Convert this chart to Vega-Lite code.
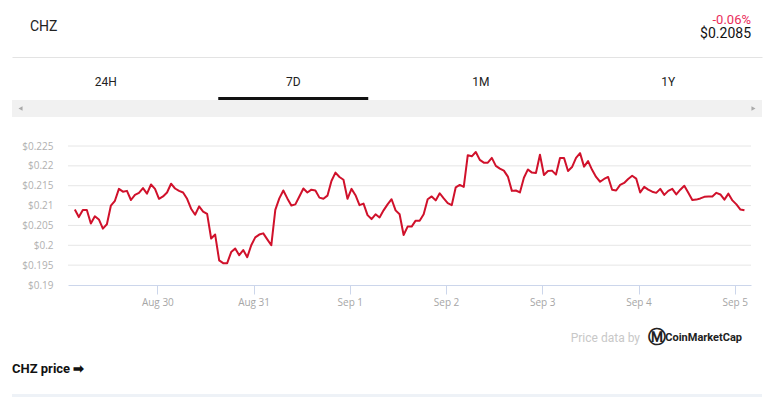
{
"$schema": "https://vega.github.io/schema/vega-lite/v6.json",
"padding": {"left": 12, "top": 0, "right": 14, "bottom": 0},
"background": "white",
"spacing": 0,
"bounds": "flush",
"config": {"view": {"stroke": null}, "font": "Roboto", "text": {"font": "Roboto"}},
"datasets": {"price": [
{"t":"2022-08-29T03:25Z","p":0.2090},{"t":"2022-08-29T04:25Z","p":0.2071},{"t":"2022-08-29T05:25Z","p":0.2089},{"t":"2022-08-29T06:25Z","p":0.2089},{"t":"2022-08-29T07:25Z","p":0.2055},{"t":"2022-08-29T08:25Z","p":0.2073},{"t":"2022-08-29T09:25Z","p":0.2065},{"t":"2022-08-29T10:25Z","p":0.2042},{"t":"2022-08-29T11:25Z","p":0.2053},{"t":"2022-08-29T12:25Z","p":0.2100},{"t":"2022-08-29T13:25Z","p":0.2112},{"t":"2022-08-29T14:25Z","p":0.2142},{"t":"2022-08-29T15:25Z","p":0.2135},{"t":"2022-08-29T16:25Z","p":0.2137},{"t":"2022-08-29T17:25Z","p":0.2114},{"t":"2022-08-29T18:25Z","p":0.2127},{"t":"2022-08-29T19:25Z","p":0.2132},{"t":"2022-08-29T20:25Z","p":0.2144},{"t":"2022-08-29T21:25Z","p":0.2130},{"t":"2022-08-29T22:25Z","p":0.2153},{"t":"2022-08-29T23:25Z","p":0.2142},
{"t":"2022-08-30T00:25Z","p":0.2117},{"t":"2022-08-30T01:25Z","p":0.2123},{"t":"2022-08-30T02:25Z","p":0.2133},{"t":"2022-08-30T03:25Z","p":0.2155},{"t":"2022-08-30T04:25Z","p":0.2143},{"t":"2022-08-30T05:25Z","p":0.2137},{"t":"2022-08-30T06:25Z","p":0.2133},{"t":"2022-08-30T07:25Z","p":0.2117},{"t":"2022-08-30T08:25Z","p":0.2092},{"t":"2022-08-30T09:25Z","p":0.2077},{"t":"2022-08-30T10:25Z","p":0.2098},{"t":"2022-08-30T11:25Z","p":0.2085},{"t":"2022-08-30T12:25Z","p":0.2079},{"t":"2022-08-30T13:25Z","p":0.2017},{"t":"2022-08-30T14:25Z","p":0.2027},{"t":"2022-08-30T15:25Z","p":0.1962},{"t":"2022-08-30T16:25Z","p":0.1955},{"t":"2022-08-30T17:25Z","p":0.1955},{"t":"2022-08-30T18:25Z","p":0.1983},{"t":"2022-08-30T19:25Z","p":0.1992},{"t":"2022-08-30T20:25Z","p":0.1975},{"t":"2022-08-30T21:25Z","p":0.1988},{"t":"2022-08-30T22:25Z","p":0.1970},{"t":"2022-08-30T23:25Z","p":0.2000},
{"t":"2022-08-31T00:25Z","p":0.2020},{"t":"2022-08-31T01:25Z","p":0.2027},{"t":"2022-08-31T02:25Z","p":0.2030},{"t":"2022-08-31T03:25Z","p":0.2015},{"t":"2022-08-31T04:25Z","p":0.2000},{"t":"2022-08-31T05:25Z","p":0.2089},{"t":"2022-08-31T06:25Z","p":0.2118},{"t":"2022-08-31T07:25Z","p":0.2138},{"t":"2022-08-31T08:25Z","p":0.2118},{"t":"2022-08-31T09:25Z","p":0.2100},{"t":"2022-08-31T10:25Z","p":0.2103},{"t":"2022-08-31T11:25Z","p":0.2123},{"t":"2022-08-31T12:25Z","p":0.2143},{"t":"2022-08-31T13:25Z","p":0.2133},{"t":"2022-08-31T14:25Z","p":0.2140},{"t":"2022-08-31T15:25Z","p":0.2138},{"t":"2022-08-31T16:25Z","p":0.2120},{"t":"2022-08-31T17:25Z","p":0.2117},{"t":"2022-08-31T18:25Z","p":0.2125},{"t":"2022-08-31T19:25Z","p":0.2162},{"t":"2022-08-31T20:25Z","p":0.2183},{"t":"2022-08-31T21:25Z","p":0.2172},{"t":"2022-08-31T22:25Z","p":0.2165},{"t":"2022-08-31T23:25Z","p":0.2117},
{"t":"2022-09-01T00:25Z","p":0.2142},{"t":"2022-09-01T01:25Z","p":0.2126},{"t":"2022-09-01T02:25Z","p":0.2101},{"t":"2022-09-01T03:25Z","p":0.2105},{"t":"2022-09-01T04:25Z","p":0.2076},{"t":"2022-09-01T05:25Z","p":0.2066},{"t":"2022-09-01T06:25Z","p":0.2078},{"t":"2022-09-01T07:25Z","p":0.2070},{"t":"2022-09-01T08:25Z","p":0.2088},{"t":"2022-09-01T09:25Z","p":0.2103},{"t":"2022-09-01T10:25Z","p":0.2116},{"t":"2022-09-01T11:25Z","p":0.2088},{"t":"2022-09-01T12:25Z","p":0.2078},{"t":"2022-09-01T13:25Z","p":0.2026},{"t":"2022-09-01T14:25Z","p":0.2047},{"t":"2022-09-01T15:25Z","p":0.2047},{"t":"2022-09-01T16:25Z","p":0.2062},{"t":"2022-09-01T17:25Z","p":0.2062},{"t":"2022-09-01T18:25Z","p":0.2078},{"t":"2022-09-01T19:25Z","p":0.2116},{"t":"2022-09-01T20:25Z","p":0.2123},{"t":"2022-09-01T21:25Z","p":0.2113},{"t":"2022-09-01T22:25Z","p":0.2131},{"t":"2022-09-01T23:25Z","p":0.2118},
{"t":"2022-09-02T00:25Z","p":0.2106},{"t":"2022-09-02T01:25Z","p":0.2101},{"t":"2022-09-02T02:25Z","p":0.2146},{"t":"2022-09-02T03:25Z","p":0.2152},{"t":"2022-09-02T04:25Z","p":0.2147},{"t":"2022-09-02T05:25Z","p":0.2227},{"t":"2022-09-02T06:25Z","p":0.2224},{"t":"2022-09-02T07:25Z","p":0.2235},{"t":"2022-09-02T08:25Z","p":0.2215},{"t":"2022-09-02T09:25Z","p":0.2208},{"t":"2022-09-02T10:25Z","p":0.2208},{"t":"2022-09-02T11:25Z","p":0.2220},{"t":"2022-09-02T12:25Z","p":0.2200},{"t":"2022-09-02T13:25Z","p":0.2193},{"t":"2022-09-02T14:25Z","p":0.2188},{"t":"2022-09-02T15:25Z","p":0.2173},{"t":"2022-09-02T16:25Z","p":0.2137},{"t":"2022-09-02T17:25Z","p":0.2138},{"t":"2022-09-02T18:25Z","p":0.2133},{"t":"2022-09-02T19:25Z","p":0.2170},{"t":"2022-09-02T20:25Z","p":0.2191},{"t":"2022-09-02T21:25Z","p":0.2183},{"t":"2022-09-02T22:25Z","p":0.2182},{"t":"2022-09-02T23:25Z","p":0.2228},
{"t":"2022-09-03T00:25Z","p":0.2177},{"t":"2022-09-03T01:25Z","p":0.2187},{"t":"2022-09-03T02:25Z","p":0.2188},{"t":"2022-09-03T03:25Z","p":0.2178},{"t":"2022-09-03T04:25Z","p":0.2220},{"t":"2022-09-03T05:25Z","p":0.2220},{"t":"2022-09-03T06:25Z","p":0.2187},{"t":"2022-09-03T07:25Z","p":0.2197},{"t":"2022-09-03T08:25Z","p":0.2220},{"t":"2022-09-03T09:25Z","p":0.2232},{"t":"2022-09-03T10:25Z","p":0.2198},{"t":"2022-09-03T11:25Z","p":0.2212},{"t":"2022-09-03T12:25Z","p":0.2190},{"t":"2022-09-03T13:25Z","p":0.2172},{"t":"2022-09-03T14:25Z","p":0.2160},{"t":"2022-09-03T15:25Z","p":0.2167},{"t":"2022-09-03T16:25Z","p":0.2172},{"t":"2022-09-03T17:25Z","p":0.2140},{"t":"2022-09-03T18:25Z","p":0.2138},{"t":"2022-09-03T19:25Z","p":0.2152},{"t":"2022-09-03T20:25Z","p":0.2157},{"t":"2022-09-03T21:25Z","p":0.2167},{"t":"2022-09-03T22:25Z","p":0.2175},{"t":"2022-09-03T23:25Z","p":0.2168},
{"t":"2022-09-04T00:25Z","p":0.2133},{"t":"2022-09-04T01:25Z","p":0.2147},{"t":"2022-09-04T02:25Z","p":0.2140},{"t":"2022-09-04T03:25Z","p":0.2135},{"t":"2022-09-04T04:25Z","p":0.2132},{"t":"2022-09-04T05:25Z","p":0.2142},{"t":"2022-09-04T06:25Z","p":0.2127},{"t":"2022-09-04T07:25Z","p":0.2137},{"t":"2022-09-04T08:25Z","p":0.2142},{"t":"2022-09-04T09:25Z","p":0.2128},{"t":"2022-09-04T10:25Z","p":0.2140},{"t":"2022-09-04T11:25Z","p":0.2150},{"t":"2022-09-04T12:25Z","p":0.2132},{"t":"2022-09-04T13:25Z","p":0.2114},{"t":"2022-09-04T14:25Z","p":0.2115},{"t":"2022-09-04T15:25Z","p":0.2118},{"t":"2022-09-04T16:25Z","p":0.2122},{"t":"2022-09-04T17:25Z","p":0.2123},{"t":"2022-09-04T18:25Z","p":0.2123},{"t":"2022-09-04T19:25Z","p":0.2132},{"t":"2022-09-04T20:25Z","p":0.2128},{"t":"2022-09-04T21:25Z","p":0.2115},{"t":"2022-09-04T22:25Z","p":0.2130},{"t":"2022-09-04T23:25Z","p":0.2113},
{"t":"2022-09-05T00:25Z","p":0.2103},{"t":"2022-09-05T01:25Z","p":0.2090},{"t":"2022-09-05T02:25Z","p":0.2088}
]},
"vconcat": [
{
 "width": 750, "height": 57,
 "layer": [
  {"data": {"values": [{"side": "left", "label": "CHZ"}]},
   "mark": {"type": "text", "align": "left", "baseline": "middle", "dx": 18, "dy": -1.5, "fontSize": 14, "color": "#222222"},
   "encoding": {
    "x": {"field": "side", "type": "nominal", "scale": {"type": "point", "domain": ["left", "right"], "padding": 0}, "axis": {"orient": "bottom", "labels": false, "ticks": false, "title": null, "domainColor": "#e3e3e3", "domainWidth": 1}},
    "text": {"field": "label"}}},
  {"data": {"values": [{"side": "right", "label": "-0.06%"}]},
   "mark": {"type": "text", "align": "right", "baseline": "middle", "dx": -11, "dy": -9, "fontSize": 13, "color": "#ea2d5b"},
   "encoding": {"x": {"field": "side", "type": "nominal"}, "text": {"field": "label"}}},
  {"data": {"values": [{"side": "right", "label": "$0.2085"}]},
   "mark": {"type": "text", "align": "right", "baseline": "middle", "dx": -11, "dy": 5.5, "fontSize": 14, "color": "#111111"},
   "encoding": {"x": {"field": "side", "type": "nominal"}, "text": {"field": "label"}}}
 ]
},
{
 "width": 750, "height": 40,
 "data": {"values": [{"tab": "24H"}, {"tab": "7D"}, {"tab": "1M"}, {"tab": "1Y"}]},
 "mark": {"type": "text", "baseline": "middle", "dy": 5, "fontSize": 12, "color": "#222222"},
 "encoding": {
  "x": {"field": "tab", "type": "nominal", "scale": {"type": "band", "domain": ["24H", "7D", "1M", "1Y"], "paddingInner": 0, "paddingOuter": 0}, "axis": null},
  "text": {"field": "tab"}}
},
{
 "width": 750, "height": 3,
 "data": {"values": [{"tab": "7D"}]},
 "mark": {"type": "bar", "width": {"band": 0.8}, "color": "#111111"},
 "encoding": {
  "x": {"field": "tab", "type": "nominal", "scale": {"type": "band", "domain": ["24H", "7D", "1M", "1Y"], "paddingInner": 0, "paddingOuter": 0}, "axis": null}}
},
{
 "width": 750, "height": 17,
 "view": {"fill": "#f1f1f1", "stroke": null},
 "data": {"values": [{"end": "left"}, {"end": "right"}]},
 "mark": {"type": "point", "filled": true, "size": 22, "color": "#aaaaaa", "opacity": 1},
 "encoding": {
  "x": {"field": "end", "type": "nominal", "scale": {"type": "point", "domain": ["left", "right"], "padding": 0.0116}, "axis": null},
  "shape": {"field": "end", "type": "nominal", "scale": {"domain": ["left", "right"], "range": ["triangle-left", "triangle-right"]}, "legend": null}}
},
{
 "width": 750, "height": 29,
 "data": {"values": []},
 "mark": "point"
},
{
 "width": 750, "height": 139,
 "layer": [
  {"data": {"values": [{"g": 0.195}, {"g": 0.2}, {"g": 0.205}, {"g": 0.21}, {"g": 0.215}, {"g": 0.22}, {"g": 0.225}]},
   "mark": {"type": "rule", "color": "#e6e6e6", "strokeWidth": 1},
   "encoding": {
    "x": {"datum": {"year": 2022, "month": 8, "date": 29, "hours": 1, "minutes": 43, "utc": true}, "type": "temporal", "title": null,
     "scale": {"type": "utc", "range": [56, 739], "domain": [{"year": 2022, "month": 8, "date": 29, "hours": 1, "minutes": 43, "utc": true}, {"year": 2022, "month": 9, "date": 5, "hours": 4, "minutes": 3, "utc": true}]},
     "axis": {"title": null, "grid": false,
      "values": [{"year": 2022, "month": 8, "date": 30, "utc": true}, {"year": 2022, "month": 8, "date": 31, "utc": true}, {"year": 2022, "month": 9, "date": 1, "utc": true}, {"year": 2022, "month": 9, "date": 2, "utc": true}, {"year": 2022, "month": 9, "date": 3, "utc": true}, {"year": 2022, "month": 9, "date": 4, "utc": true}, {"year": 2022, "month": 9, "date": 5, "utc": true}],
      "labelExpr": "utcFormat(datum.value, '%b %-d')", "labelOverlap": false,
      "domainColor": "#ccd6eb", "tickColor": "#ccd6eb", "tickSize": 9, "labelPadding": 3,
      "labelColor": "#a6a6a6", "labelFontSize": 10, "labelFont": "Open Sans"}},
    "x2": {"datum": {"year": 2022, "month": 9, "date": 5, "hours": 4, "minutes": 3, "utc": true}},
    "y": {"field": "g", "type": "quantitative", "title": null,
     "scale": {"domain": [0.19, 0.225], "zero": false, "nice": false},
     "axis": {"title": null, "values": [0.19, 0.195, 0.2, 0.205, 0.21, 0.215, 0.22, 0.225], "offset": -56,
      "labelExpr": "'$' + datum.value", "labelOverlap": false, "labelFlush": false, "domain": false, "ticks": false, "grid": false,
      "labelPadding": 15, "labelColor": "#b0b0b0", "labelFontSize": 10, "labelFont": "Open Sans"}}}},
  {"data": {"name": "price"},
   "mark": {"type": "line", "color": "#d0112b", "strokeWidth": 2, "strokeJoin": "round"},
   "encoding": {
    "x": {"field": "t", "type": "temporal", "title": null,
     "axis": {"title": null, "grid": false,
      "values": [{"year": 2022, "month": 8, "date": 30, "utc": true}, {"year": 2022, "month": 8, "date": 31, "utc": true}, {"year": 2022, "month": 9, "date": 1, "utc": true}, {"year": 2022, "month": 9, "date": 2, "utc": true}, {"year": 2022, "month": 9, "date": 3, "utc": true}, {"year": 2022, "month": 9, "date": 4, "utc": true}, {"year": 2022, "month": 9, "date": 5, "utc": true}],
      "labelExpr": "utcFormat(datum.value, '%b %-d')", "labelOverlap": false,
      "domainColor": "#ccd6eb", "tickColor": "#ccd6eb", "tickSize": 9, "labelPadding": 3,
      "labelColor": "#a6a6a6", "labelFontSize": 10, "labelFont": "Open Sans"}},
    "y": {"field": "p", "type": "quantitative", "title": null,
     "axis": {"title": null, "values": [0.19, 0.195, 0.2, 0.205, 0.21, 0.215, 0.22, 0.225], "offset": -56,
      "labelExpr": "'$' + datum.value", "labelOverlap": false, "labelFlush": false, "domain": false, "ticks": false, "grid": false,
      "labelPadding": 15, "labelColor": "#b0b0b0", "labelFontSize": 10, "labelFont": "Open Sans"}}
   }}
 ]
},
{
 "width": 750, "height": 109,
 "layer": [
  {"data": {"values": [{"pos": "start", "label": "CHZ price ➡"}]},
   "mark": {"type": "text", "align": "left", "baseline": "middle", "dy": 29.5, "fontSize": 13, "fontWeight": "bold", "color": "#111111"},
   "encoding": {
    "x": {"field": "pos", "type": "nominal", "scale": {"type": "point", "domain": ["start", "end"], "padding": 0}, "axis": null},
    "text": {"field": "label"}}},
  {"data": {"values": [{"pos": "end", "label": "Price data by"}]},
   "mark": {"type": "text", "align": "right", "baseline": "middle", "dx": -122, "dy": -1.5, "fontSize": 12, "color": "#c8c8c8"},
   "encoding": {"x": {"field": "pos", "type": "nominal"}, "text": {"field": "label"}}},
  {"data": {"values": [{"pos": "end", "label": "Ⓜ"}]},
   "mark": {"type": "text", "align": "center", "baseline": "middle", "dx": -105, "dy": -1.5, "fontSize": 18, "fontWeight": "bold", "font": "DejaVu Sans", "color": "#222222"},
   "encoding": {"x": {"field": "pos", "type": "nominal"}, "text": {"field": "label"}}},
  {"data": {"values": [{"pos": "end", "label": "CoinMarketCap"}]},
   "mark": {"type": "text", "align": "right", "baseline": "middle", "dx": -20, "dy": -1.5, "fontSize": 11, "fontWeight": "bold", "color": "#222222"},
   "encoding": {"x": {"field": "pos", "type": "nominal"}, "text": {"field": "label"}}}
 ]
},
{
 "width": 750, "height": 3,
 "view": {"fill": "#eef2f7", "stroke": null},
 "data": {"values": []},
 "mark": "point"
}
]
}
